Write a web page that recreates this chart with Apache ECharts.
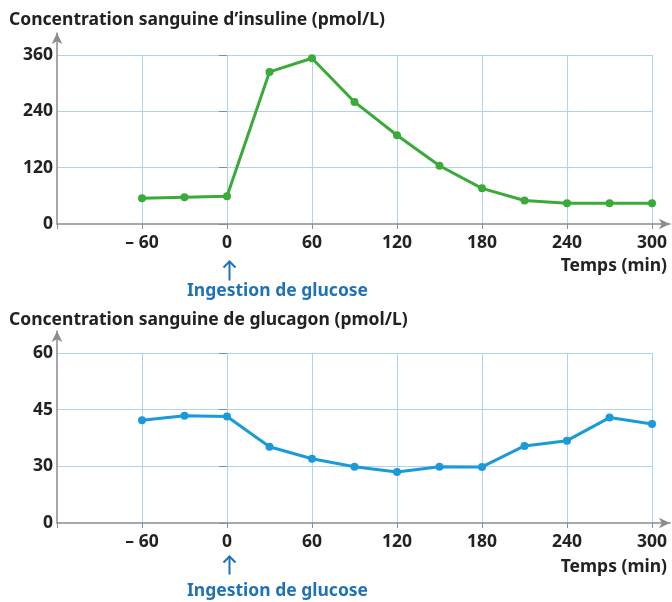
<!DOCTYPE html>
<html>
<head>
<meta charset="utf-8">
<script src="https://cdn.jsdelivr.net/npm/echarts@6/dist/echarts.min.js"></script>
<style>
  html, body { margin: 0; padding: 0; background: #fff; }
  #chart { width: 672px; height: 602px; }
</style>
</head>
<body>
<div id="chart"></div>
<script>
// temps en minutes (axe commun aux deux graphes)
const temps = [-60, -30, 0, 30, 60, 90, 120, 150, 180, 210, 240, 270, 300]
const insuline = [55, 57, 59, 324, 353, 260, 189, 124, 76, 50, 44, 44, 44]
const glucagon = [42.2, 43.4, 43.2, 35.2, 32, 29.8, 27, 29.8, 29.7, 35.4, 36.8, 42.9, 41.2]
const ticksInsuline = [0, 120, 240, 360]
const ticksGlucagon = [0, 30, 45, 60]

const FONT = '"Noto Sans", sans-serif'
const FS = 17.5
const GRID_COLOR = '#abd5ee'
const AXIS_COLOR = '#8c8c8c'
const TEXT_COLOR = '#222'
const BLUE_TEXT = '#1f72b8'

// l'axe des glucagons est coupé : 0 -> 30 occupe la même hauteur que 30 -> 45
function glucagonPos(v) {
  return v >= 30 ? v : 15 + v / 2
}
function glucagonLabel(v) {
  return v === 15 ? '0' : String(v)
}

const chart = echarts.init(document.getElementById('chart'))

function mainXAxis(gridIndex) {
  return {
    gridIndex: gridIndex,
    type: 'value',
    min: -120,
    max: 300,
    interval: 60,
    axisLine: { show: false },
    axisTick: { show: true, inside: false, length: 5, lineStyle: { color: AXIS_COLOR } },
    axisLabel: {
      color: TEXT_COLOR, fontFamily: FONT, fontSize: FS, fontWeight: 'bold', margin: 10,
      formatter: v => v === -120 ? '' : (v < 0 ? '\u2013 ' + Math.abs(v) : String(v))
    },
    splitLine: { show: true, showMinLine: false, showMaxLine: true, lineStyle: { color: GRID_COLOR, width: 1 } }
  }
}

// axes fléchés (sans graduation) dessinés dans une grille un peu plus grande
function arrowAxis(gridIndex) {
  return {
    gridIndex: gridIndex,
    type: 'value',
    min: 0,
    max: 1,
    axisLine: {
      show: true,
      onZero: false,
      symbol: ['none', 'arrow'],
      symbolSize: [8, 11],
      lineStyle: { color: AXIS_COLOR, width: 1.5 }
    },
    axisTick: { show: false },
    axisLabel: { show: false },
    splitLine: { show: false }
  }
}

function textStyle(color) {
  return { color: color, fontFamily: FONT, fontSize: FS, fontWeight: 'bold' }
}

const option = {
  animation: false,
  backgroundColor: '#fff',
  title: [
    { text: 'Concentration sanguine d\u2019insuline (pmol/L)', left: 4, top: 6, textStyle: textStyle(TEXT_COLOR) },
    { text: 'Concentration sanguine de glucagon (pmol/L)', left: 4, top: 306, textStyle: textStyle(TEXT_COLOR) },
    { text: 'Temps (min)', right: 0, top: 252, textStyle: textStyle(TEXT_COLOR) },
    { text: 'Temps (min)', right: 0, top: 553, textStyle: textStyle(TEXT_COLOR) },
    { text: 'Ingestion de glucose', left: 182, top: 277, textStyle: textStyle(BLUE_TEXT) },
    { text: 'Ingestion de glucose', left: 182, top: 577, textStyle: textStyle(BLUE_TEXT) }
  ],
  grid: [
    { left: 57, top: 55, width: 595, height: 169 },
    { left: 57, top: 33, width: 613, height: 191 },
    { left: 57, top: 353, width: 595, height: 170 },
    { left: 57, top: 331, width: 613, height: 192 }
  ],
  xAxis: [
    mainXAxis(0),
    arrowAxis(1),
    mainXAxis(2),
    arrowAxis(3)
  ],
  yAxis: [
    {
      gridIndex: 0,
      type: 'value',
      min: ticksInsuline[0],
      max: ticksInsuline[ticksInsuline.length - 1],
      interval: 120,
      axisLine: { show: false },
      axisTick: { show: true, length: 8, lineStyle: { color: AXIS_COLOR } },
      axisLabel: { color: TEXT_COLOR, fontFamily: FONT, fontSize: FS, fontWeight: 'bold', margin: 4 },
      splitLine: { show: true, showMinLine: false, lineStyle: { color: GRID_COLOR, width: 1 } }
    },
    arrowAxis(1),
    {
      gridIndex: 2,
      type: 'value',
      min: glucagonPos(ticksGlucagon[0]),
      max: ticksGlucagon[ticksGlucagon.length - 1],
      interval: 15,
      axisLine: { show: false },
      axisTick: { show: true, length: 8, lineStyle: { color: AXIS_COLOR } },
      axisLabel: {
        color: TEXT_COLOR, fontFamily: FONT, fontSize: FS, fontWeight: 'bold', margin: 4,
        formatter: glucagonLabel
      },
      splitLine: { show: true, showMinLine: false, lineStyle: { color: GRID_COLOR, width: 1 } }
    },
    arrowAxis(3)
  ],
  series: [
    {
      name: 'Insuline',
      type: 'line',
      xAxisIndex: 0,
      yAxisIndex: 0,
      data: temps.map((t, i) => [t, insuline[i]]),
      symbol: 'circle',
      symbolSize: 8,
      itemStyle: { color: '#3aaa38' },
      lineStyle: { color: '#3aaa38', width: 3 },
      z: 5
    },
    {
      name: 'Glucagon',
      type: 'line',
      xAxisIndex: 2,
      yAxisIndex: 2,
      data: temps.map((t, i) => [t, glucagonPos(glucagon[i])]),
      symbol: 'circle',
      symbolSize: 8,
      itemStyle: { color: '#1b9ad8' },
      lineStyle: { color: '#1b9ad8', width: 3 },
      z: 5
    }
  ],
  // flèches "ingestion de glucose" sous la graduation 0
  graphic: [
    {
      type: 'group',
      left: 221, top: 259,
      children: [
        { type: 'line', shape: { x1: 6, y1: 1, x2: 6, y2: 20 }, style: { stroke: BLUE_TEXT, lineWidth: 2 } },
        { type: 'polyline', shape: { points: [[0, 7], [6, 1], [12, 7]] }, style: { stroke: BLUE_TEXT, lineWidth: 2, fill: null } }
      ]
    },
    {
      type: 'group',
      left: 221, top: 554,
      children: [
        { type: 'line', shape: { x1: 6, y1: 1, x2: 6, y2: 19 }, style: { stroke: BLUE_TEXT, lineWidth: 2 } },
        { type: 'polyline', shape: { points: [[0, 7], [6, 1], [12, 7]] }, style: { stroke: BLUE_TEXT, lineWidth: 2, fill: null } }
      ]
    }
  ]
}

chart.setOption(option)
</script>
</body>
</html>
